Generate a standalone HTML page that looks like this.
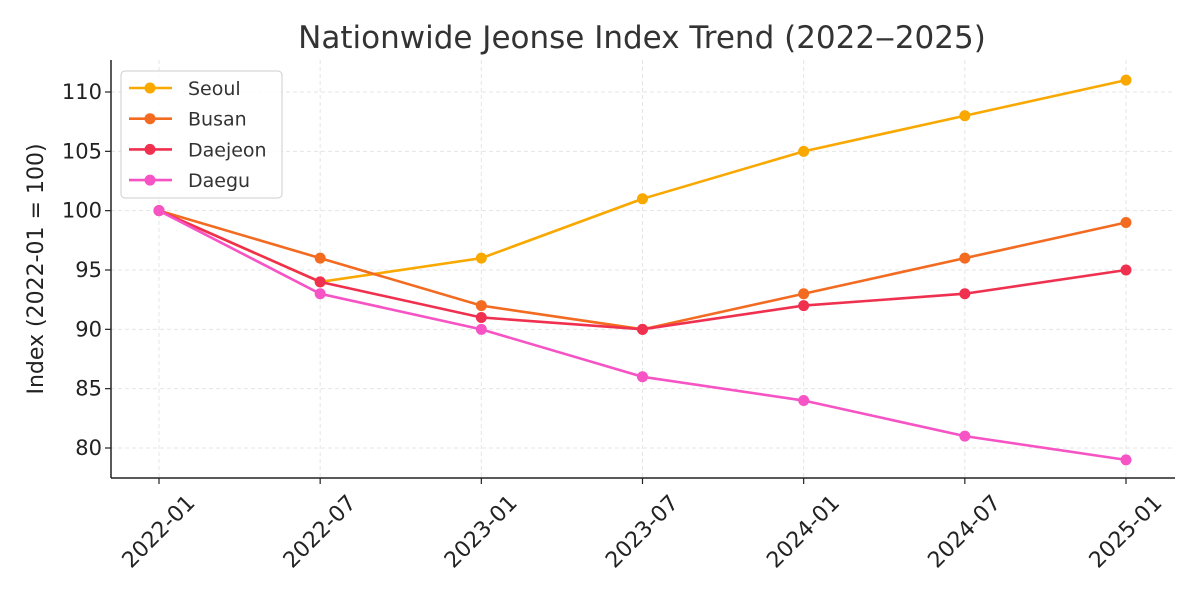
<!DOCTYPE html>
<html><head><meta charset="utf-8"><style>
body{margin:0;background:#fff;}
svg{display:block;font-family:"DejaVu Sans","Liberation Sans",sans-serif;}
</style></head><body>
<svg id="chart" width="1200" height="600" viewBox="0 0 1200 600">
<rect width="1200" height="600" fill="#fff"/>
<text x="642" y="48" text-anchor="middle" font-size="31" fill="#333">Nationwide Jeonse Index Trend (2022‒2025)</text>
<text transform="translate(43,269) rotate(-90)" text-anchor="middle" font-size="22" fill="#222">Index (2022-01 = 100)</text>
<g id="grid"></g><g id="axes"></g><g id="series"></g>
<g>
<rect x="121" y="71" width="161" height="127" rx="4" fill="#fff" fill-opacity="0.85" stroke="#ccc"/>
<g id="legend-items"></g>
</g>
</svg>
<script>
const categories=["2022-01","2022-07","2023-01","2023-07","2024-01","2024-07","2025-01"];
const seriesNames=["Seoul","Busan","Daejeon","Daegu"];
const seoul=[100,94,96,101,105,108,111];
const busan=[100,96,92,90,93,96,99];
const daejeon=[100,94,91,90,92,93,95];
const daegu=[100,93,90,86,84,81,79];
const yTicks=[80,85,90,95,100,105,110];
const colors=["#f9a800","#f26b21","#f0304f","#f653c4"];
const allSeries=[seoul,busan,daejeon,daegu];
const NS="http://www.w3.org/2000/svg";
const X0=111,X1=1175,Y0=60,Y1=478;
function xs(i){return 159+i*(1126-159)/(categories.length-1);}
function ys(v){return 448+(v-80)*(92-448)/30;}
function mk(tag,attrs,parent){const e=document.createElementNS(NS,tag);for(const k in attrs)e.setAttribute(k,attrs[k]);parent.appendChild(e);return e;}
const grid=document.getElementById('grid'),axes=document.getElementById('axes'),ser=document.getElementById('series'),leg=document.getElementById('legend-items');
categories.forEach((c,i)=>{
 const g=mk('line',{x1:xs(i),x2:xs(i),y1:Y0,y2:Y1,stroke:'#e5e5e5','stroke-dasharray':'4,3'},grid);
 
 
 const t=mk('line',{x1:xs(i),x2:xs(i),y1:Y1,y2:Y1+6,stroke:'#222','stroke-width':1.2},axes);
 
 
 const tx=mk('text',{transform:`translate(${xs(i)},532) rotate(-45)`,'text-anchor':'middle','dominant-baseline':'central','font-size':22,fill:'#222'},axes);
 tx.textContent=c;
 
 
});
yTicks.forEach(v=>{
 const g=mk('line',{x1:X0,x2:X1,y1:ys(v),y2:ys(v),stroke:'#e5e5e5','stroke-dasharray':'4,3'},grid);
 
 
 const t=mk('line',{x1:X0-6,x2:X0,y1:ys(v),y2:ys(v),stroke:'#222','stroke-width':1.2},axes);
 
 
 const tx=mk('text',{x:X0-9,y:ys(v)+7,'text-anchor':'end','font-size':21,fill:'#222'},axes);
 tx.textContent=v;
 
 
});
const la=mk('line',{x1:X0,x2:X0,y1:Y0,y2:Y1,stroke:'#222','stroke-width':1.5},axes);


const lb=mk('line',{x1:X0,x2:X1,y1:Y1,y2:Y1,stroke:'#222','stroke-width':1.5},axes);


allSeries.forEach((d,s)=>{
 const g=mk('g',{},ser);
 
 
 const p=mk('polyline',{points:d.map((v,i)=>xs(i)+','+ys(v)).join(' '),fill:'none',stroke:colors[s],'stroke-width':2.6},g);
 
 
 d.forEach((v,i)=>{
  const c=mk('circle',{cx:xs(i),cy:ys(v),r:5.5,fill:colors[s]},g);
  
  
 });
 const y=88+s*30.7;
 const e=mk('g',{},leg);
 
 
 mk('line',{x1:129,x2:172,y1:y,y2:y,stroke:colors[s],'stroke-width':2.6},e);
 mk('circle',{cx:150,cy:y,r:5.5,fill:colors[s]},e);
 const t=mk('text',{x:188,y:y+7,'font-size':19,fill:'#333'},e);
 t.textContent=seriesNames[s];
});
</script>
</body></html>
